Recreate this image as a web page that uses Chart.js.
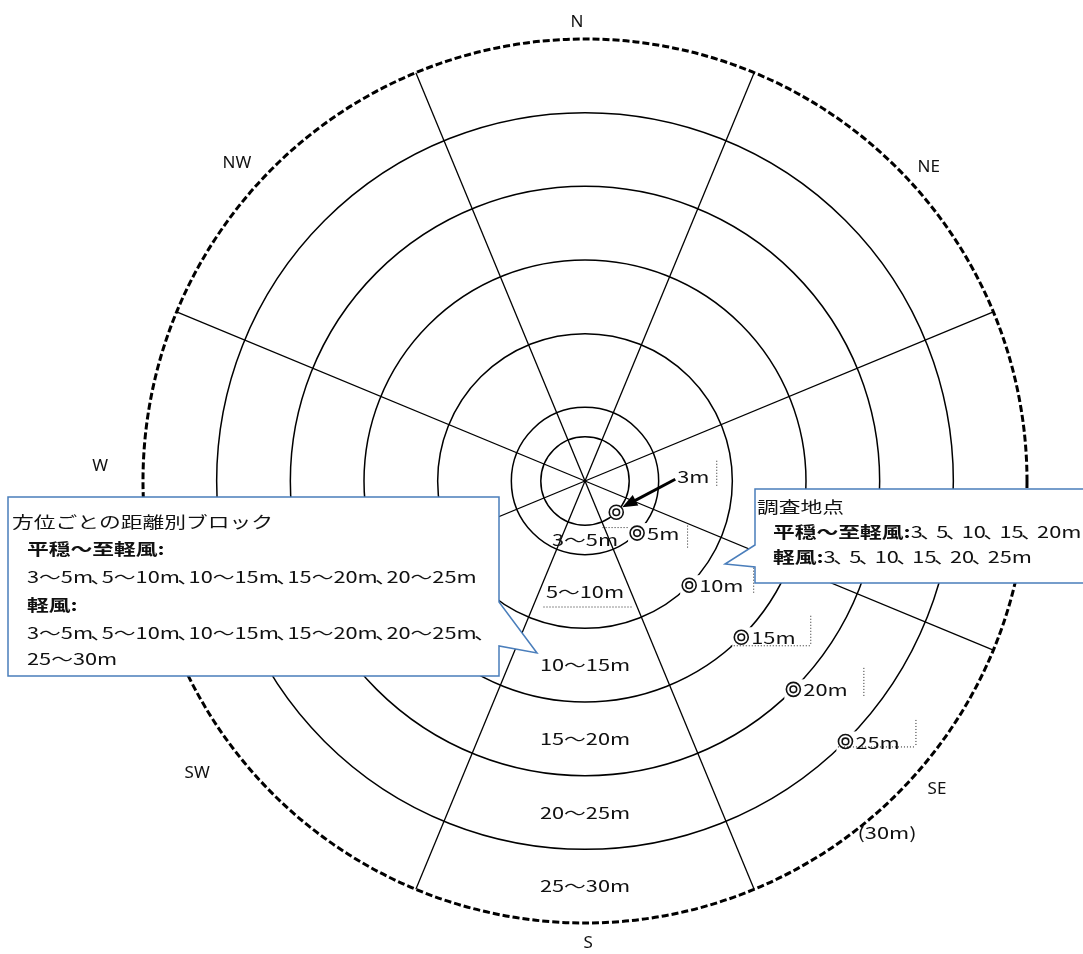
<!DOCTYPE html>
<html lang="ja">
<head>
<meta charset="utf-8">
<title>方位ごとの距離別ブロック</title>
<script src="https://cdn.jsdelivr.net/npm/chart.js@4.4.1/dist/chart.umd.min.js"></script>
<style>
  html, body { margin: 0; padding: 0; background: #fff; overflow: hidden; }
  #wrap { position: relative; width: 1083px; height: 954px; }
</style>
</head>
<body>
<div id="wrap"><canvas id="compassChart"></canvas></div>
<script>
// 16 compass points: the 8 main ones are labelled, the in-between ones carry the sector lines
const directions = ['N', 'NNE', 'NE', 'ENE', 'E', 'ESE', 'SE', 'SSE', 'S', 'SSW', 'SW', 'WSW', 'W', 'WNW', 'NW', 'NNW'];
const mainDirections = ['N', 'NE', 'E', 'SE', 'S', 'SW', 'W', 'NW'];

// distance rings (m), the last one is the dashed 30m limit
const rings = [3, 5, 10, 15, 20, 25, 30];

// distance blocks written down the S sector, and the distance where each sits
const blockLabels = ['3～5m', '5～10m', '10～15m', '15～20m', '20～25m', '25～30m'];
const blockMid = [4, 7.5, 12.5, 17.5, 22.5, 27.5];

// survey points, all on the SE bearing (m)
const surveyDir = 'SE';
const surveyDist = [3, 5, 10, 15, 20, 25];
const surveyLabels = ['3m', '5m', '10m', '15m', '20m', '25m'];
const outerLabel = '(30m)';

// callout texts: [bold part, normal part]
const blockBoxLines = [
    ['', '方位ごとの距離別ブロック'],
    ['平穏～至軽風:', ''],
    ['', '3～5m、5～10m、10～15m、15～20m、20～25m'],
    ['軽風:', ''],
    ['', '3～5m、5～10m、10～15m、15～20m、20～25m、'],
    ['', '25～30m']
];
const siteBoxLines = [
    ['', '調査地点'],
    ['平穏～至軽風:', '3、5、10、15、20m'],
    ['軽風:', '3、5、10、15、20、25m']
];

// ---- layout / style only below ----
const FONT = '"Noto Sans CJK JP", "Noto Sans", sans-serif';
const SX = 1.36;           // the original text is drawn a bit wide
const BOX_BLUE = '#4a7ebb';

// where each compass letter sits: [bearing deg, distance in m]
const compassPlace = {
    N: [359, 31.15], NE: [47.6, 31.6], E: [92.6, 32.0], SE: [131.2, 31.75],
    S: [179.6, 31.35], SW: [233, 32.96], W: [271.8, 32.93], NW: [312.4, 32.0]
};

// dotted leftovers of the little text frames: [x1, y1, x2, y2] relative to the marker
const leaderMarks = {
    5: [[-35, -6, -9, -6], [50, -8, 50, 15]],
    10: [[64, -18, 64, 8]],
    15: [[-11, 8, 69, 8], [69, -22, 69, 8]],
    20: [[70, -22, 70, 8]],
    25: [[-8, 5, 70, 5], [70, -22, 70, 5]]
};

const callouts = [
    { x: 8, y: 497, w: 491, h: 179, side: 'right', tail: [[499, 602], [537, 653], [499, 646]], comma: 0.4,
      lines: blockBoxLines, tx: [12, 27, 27, 27, 27, 27], ty: [25, 52, 80, 108, 136, 162] },
    { x: 755, y: 489, w: 340, h: 94, side: 'left', tail: [[755, 567], [725, 564], [755, 545]], comma: 0.62,
      lines: siteBoxLines, tx: [757, 773, 773], ty: [18, 43, 68] }
];

// draws text stretched sideways; the ideographic comma takes a narrower cell, like the original font
function wideText(ctx, text, x, y, size, bold, align, commaEm) {
    ctx.save();
    ctx.font = (bold ? 'bold ' : '') + size + 'px ' + FONT;
    ctx.textBaseline = 'middle';
    ctx.textAlign = 'left';
    const parts = text.split('、');
    const comma = size * (commaEm || 0.4);
    let w = 0;
    parts.forEach((pt, i) => {
        w += ctx.measureText(pt).width;
        if (i < parts.length - 1) w += comma;
    });
    w *= SX;
    const left = align === 'center' ? x - w / 2 : x;
    ctx.translate(left, y);
    ctx.scale(SX, 1);
    let cx = 0;
    parts.forEach((pt, i) => {
        ctx.fillText(pt, cx, 0);
        cx += ctx.measureText(pt).width;
        if (i < parts.length - 1) {
            ctx.fillText('、', cx - 2, 0);
            cx += comma;
        }
    });
    ctx.restore();
    return w;
}

function dotted(ctx, x1, y1, x2, y2) {
    ctx.save();
    ctx.strokeStyle = '#222';
    ctx.lineWidth = 1;
    ctx.setLineDash([1, 2]);
    ctx.beginPath();
    ctx.moveTo(x1 + 0.5, y1 + 0.5);
    ctx.lineTo(x2 + 0.5, y2 + 0.5);
    ctx.stroke();
    ctx.restore();
}

// the double-circle survey marker
function doubleCircle(ctx, x, y) {
    ctx.save();
    ctx.strokeStyle = '#111';
    ctx.lineWidth = 1.6;
    ctx.fillStyle = '#fff';
    ctx.beginPath();
    ctx.arc(x, y, 7, 0, Math.PI * 2);
    ctx.fill();
    ctx.stroke();
    ctx.beginPath();
    ctx.arc(x, y, 3.3, 0, Math.PI * 2);
    ctx.stroke();
    ctx.restore();
}

const annotationPlugin = {
    id: 'compassAnnotations',
    afterDraw(chart) {
        const ctx = chart.ctx;
        const r = chart.scales.r;
        const n = directions.length;
        const at = (deg, value) => r.getPointPositionForValue(deg / 360 * n, value);
        const surveyDeg = directions.indexOf(surveyDir) * 360 / n;

        ctx.save();
        ctx.fillStyle = '#111';

        // compass letters
        ctx.font = '17px "Noto Sans", sans-serif';
        ctx.textAlign = 'center';
        ctx.textBaseline = 'middle';
        mainDirections.forEach(d => {
            const p = at(compassPlace[d][0], compassPlace[d][1]);
            ctx.fillText(d, p.x, p.y);
        });

        // distance blocks down the S sector
        blockLabels.forEach((t, i) => {
            const p = at(180, blockMid[i]);
            wideText(ctx, t, p.x, p.y, 16, false, 'center');
            if (i === 1) dotted(ctx, p.x - 42, p.y + 15, p.x + 48, p.y + 15);
        });

        // survey markers
        surveyDist.forEach((d, i) => {
            const p = at(surveyDeg, d);
            if (i > 0) {
                ctx.font = '16px ' + FONT;
                const tw = ctx.measureText(surveyLabels[i]).width * SX;
                ctx.fillStyle = '#fff';
                ctx.fillRect(p.x - 9, p.y - 10, tw + 21, 20);
                ctx.fillStyle = '#111';
                wideText(ctx, surveyLabels[i], p.x + 10, p.y + 1, 16, false, 'left');
            }
            doubleCircle(ctx, p.x, p.y);
            (leaderMarks[d] || []).forEach(m => dotted(ctx, p.x + m[0], p.y + m[1], p.x + m[2], p.y + m[3]));
        });

        // 3m label with its arrow
        const p3 = at(surveyDeg, surveyDist[0]);
        const lx = p3.x + 77, ly = p3.y - 35;
        ctx.fillStyle = '#111';
        wideText(ctx, surveyLabels[0], lx, ly, 16, false, 'center');
        dotted(ctx, lx + 23, ly - 17, lx + 23, ly + 8);
        const sx = lx - 18, sy = ly + 2, tx = p3.x + 6, ty = p3.y - 5;
        const ang = Math.atan2(ty - sy, tx - sx);
        ctx.strokeStyle = '#000';
        ctx.lineWidth = 3;
        ctx.beginPath();
        ctx.moveTo(sx, sy);
        ctx.lineTo(tx - 10 * Math.cos(ang), ty - 10 * Math.sin(ang));
        ctx.stroke();
        ctx.fillStyle = '#000';
        ctx.beginPath();
        ctx.moveTo(tx, ty);
        ctx.lineTo(tx - 15 * Math.cos(ang) + 6 * Math.sin(ang), ty - 15 * Math.sin(ang) - 6 * Math.cos(ang));
        ctx.lineTo(tx - 15 * Math.cos(ang) - 6 * Math.sin(ang), ty - 15 * Math.sin(ang) + 6 * Math.cos(ang));
        ctx.closePath();
        ctx.fill();

        // (30m) beside the outer ring
        ctx.fillStyle = '#111';
        const p30 = at(139.4, 31.5);
        wideText(ctx, outerLabel, p30.x, p30.y, 16, false, 'center');

        // callout boxes
        callouts.forEach(b => {
            ctx.beginPath();
            ctx.moveTo(b.x, b.y);
            ctx.lineTo(b.x + b.w, b.y);
            if (b.side === 'right') {
                b.tail.forEach(pt => ctx.lineTo(pt[0], pt[1]));
                ctx.lineTo(b.x + b.w, b.y + b.h);
                ctx.lineTo(b.x, b.y + b.h);
            } else {
                ctx.lineTo(b.x + b.w, b.y + b.h);
                ctx.lineTo(b.x, b.y + b.h);
                b.tail.forEach(pt => ctx.lineTo(pt[0], pt[1]));
            }
            ctx.closePath();
            ctx.fillStyle = '#fff';
            ctx.fill();
            ctx.strokeStyle = BOX_BLUE;
            ctx.lineWidth = 1.5;
            ctx.setLineDash([]);
            ctx.stroke();

            ctx.fillStyle = '#111';
            b.lines.forEach((ln, i) => {
                let x = b.tx[i];
                const y = b.y + b.ty[i];
                if (ln[0]) x += wideText(ctx, ln[0], x, y, 16, true, 'left', b.comma);
                if (ln[1]) wideText(ctx, ln[1], x, y, 16, false, 'left', b.comma);
            });
        });
        ctx.restore();
    }
};

const compassChart = new Chart(document.getElementById('compassChart'), {
    type: 'radar',
    data: {
        labels: directions,
        datasets: []
    },
    options: {
        responsive: true,
        maintainAspectRatio: false,
        animation: false,
        layout: {
            padding: { left: 87, right: 0, top: 39, bottom: 31 }
        },
        plugins: {
            legend: { display: false },
            tooltip: { enabled: false }
        },
        scales: {
            r: {
                min: 0,
                max: 30,
                afterBuildTicks: scale => {
                    scale.ticks = [0].concat(rings).map(v => ({ value: v }));
                },
                ticks: { display: false },
                pointLabels: { display: false },
                grid: {
                    circular: true,
                    color: '#000',
                    lineWidth: ctx => ctx.tick && ctx.tick.value === 30 ? 3 : 1.5
                },
                border: {
                    dash: ctx => ctx.tick && ctx.tick.value === 30 ? [7, 3] : []
                },
                angleLines: {
                    color: '#000',
                    lineWidth: ctx => ctx.index % 2 ? 1.3 : 0
                }
            }
        }
    },
    plugins: [annotationPlugin]
});
</script>
</body>
</html>
